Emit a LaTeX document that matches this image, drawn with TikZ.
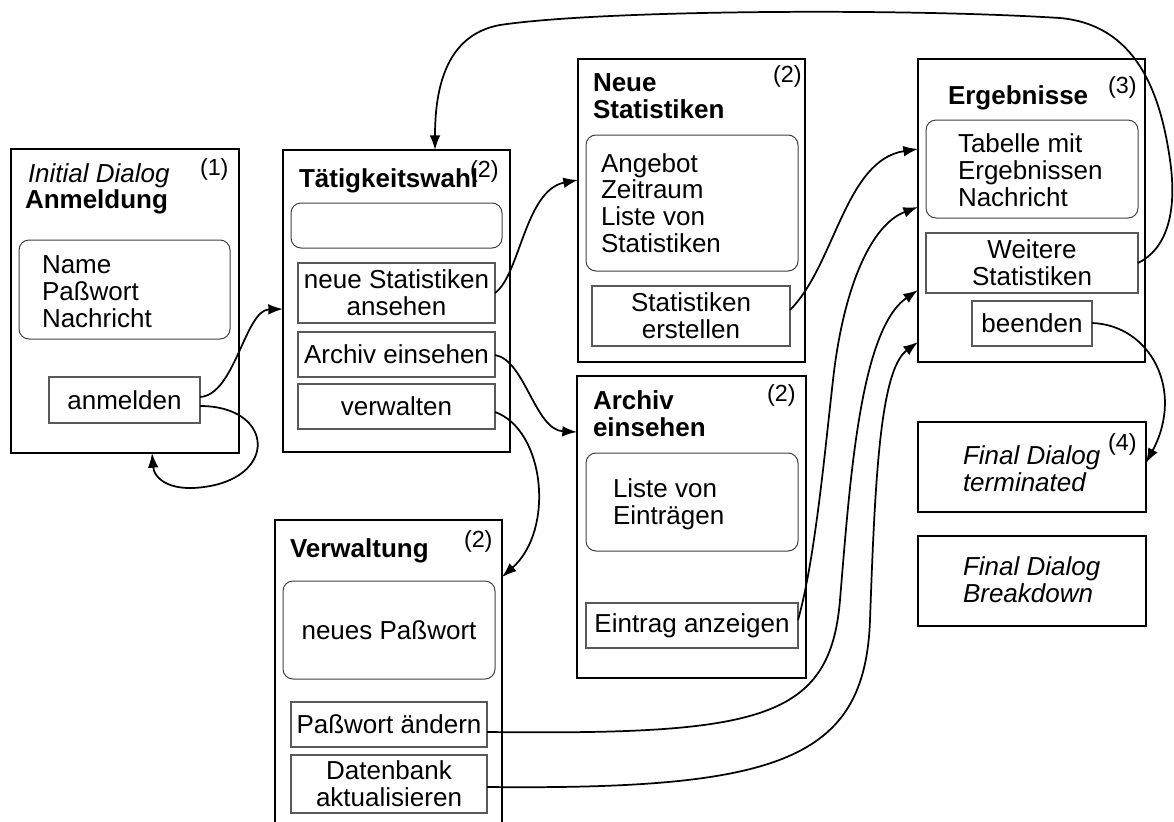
\documentclass[tikz,border=0pt]{standalone}
\usepackage{fontspec}
\setmainfont{Liberation Sans}
\usetikzlibrary{arrows.meta,fit}
\newcommand\dlgfont{\fontsize{19.5pt}{20pt}\selectfont}
\newcommand\numfont{\fontsize{17.5pt}{20pt}\selectfont}
\begin{document}
\begin{tikzpicture}[x=0.75pt,y=-0.75pt,
  every node/.style={font=\dlgfont, inner sep=0pt, outer sep=0pt},
  size/.style 2 args={minimum width=#1*0.75pt, minimum height=#2*0.75pt},
  dialog/.style={draw, line width=1.9pt, inner sep=0pt},
  field/.style={draw=black!75, line width=0.75pt, rounded corners=7.5pt, inner sep=0pt, align=center},
  btn/.style={draw=black!65, line width=0.8pt, inner sep=0pt, align=center},
  txt/.style={anchor=base west, align=left},
  ttl/.style={txt, font=\dlgfont\bfseries},
  ital/.style={txt, font=\dlgfont\itshape},
  num/.style={anchor=base west, font=\numfont},
  flow/.style={line width=1.3pt, -{Latex[length=11pt,width=8pt]}}
]
\useasboundingbox (0,0) rectangle (1174,821);
\clip (0,0) rectangle (1174,821);

% --- Initial dialog: Anmeldung
\node[dialog, fit={(11,149)(239,453)}] (init) {};
\node[ital] (initA) at (28,182) {Initial Dialog};
\node[ttl] (initB) at (25,208) {Anmeldung};
\node[num] (initN) at (200,175) {(1)};
\node[field, fit={(19,240)(230,339)}] (initF) {};
% multi-line texts are placed by the baseline of their last line
\node[txt] (initL) at (42,327) {Name\\Paßwort\\Nachricht};
\node[btn, size={151}{46}] (anm) at (124.5,400) {anmelden};

% --- Taetigkeitswahl
\node[dialog, fit={(283,150)(510,452)}] (taet) {};
\node[ttl] (taetA) at (299,187) {Tätigkeitswahl};
\node[num] (taetN) at (470,177) {(2)};
\node[field, fit={(291,203)(502,248)}] (taetF) {};
\node[btn, size={197}{60}] (nsa) at (396.5,293) {neue Statistiken\\ansehen};
\node[btn, size={197}{45}] (aeb) at (396.5,354.5) {Archiv einsehen};
\node[btn, size={197}{45}] (vwb) at (396.5,406.5) {verwalten};

% --- Neue Statistiken
\node[dialog, fit={(578,59)(805,362)}] (neu) {};
\node[ttl] (neuA) at (593,118) {Neue\\Statistiken};
\node[num] (neuN) at (773,82) {(2)};
\node[field, fit={(586,135)(798,271)}] (neuF) {};
\node[txt] (neuL) at (601,252) {Angebot\\Zeitraum\\Liste von\\Statistiken};
\node[btn, size={198}{60}] (seb) at (691,316) {Statistiken\\erstellen};

% --- Ergebnisse
\node[dialog, fit={(918,59)(1145,362)}] (erg) {};
\node[ttl] (ergA) at (948,104) {Ergebnisse};
\node[num] (ergN) at (1108,93) {(3)};
\node[field, fit={(926,120)(1138,218)}] (ergF) {};
\node[txt] (ergL) at (958,206) {Tabelle mit\\Ergebnissen\\Nachricht};
\node[btn, size={212}{60}] (wsb) at (1032,263) {Weitere\\Statistiken};
\node[btn, size={120}{45}] (beb) at (1032,323.5) {beenden};

% --- Archiv einsehen
\node[dialog, fit={(577,376)(806,678)}] (arch) {};
\node[ttl] (archA) at (593,436) {Archiv\\einsehen};
\node[num] (archN) at (767,401) {(2)};
\node[field, fit={(586,453)(798,551)}] (archF) {};
\node[txt] (archL) at (613,524) {Liste von\\Einträgen};
\node[btn, size={212}{45}] (eab) at (692,625.5) {Eintrag anzeigen};

% --- Verwaltung (runs past the lower edge)
\node[dialog, fit={(275,520)(502,840)}] (verw) {};
\node[ttl] (verwA) at (290,557) {Verwaltung};
\node[num] (verwN) at (464,547) {(2)};
\node[field, size={212}{98}] (verwF) at (389,630) {neues Paßwort};
\node[btn, size={196}{45}] (pab) at (389,724.5) {Paßwort ändern};
\node[btn, size={196}{58}] (dbb) at (389,784) {Datenbank\\aktualisieren};

% --- Final dialogs
\node[dialog, fit={(918,422)(1146,512)}] (fterm) {};
\node[ital] (ftermA) at (963,491) {Final Dialog\\terminated};
\node[num] (ftermN) at (1108,450) {(4)};
\node[dialog, fit={(918,536)(1146,626)}] (fbrk) {};
\node[ital] (fbrkA) at (963,602) {Final Dialog\\Breakdown};

% --- transitions
\draw[flow] (anm.east |- 0,397) .. controls (235,395) and (245,310) .. (taet.west |- 0,309);
\draw[flow] (anm.east |- 0,406) .. controls (270,406) and (278,470) .. (215,485)
            .. controls (170,495) and (154,478) .. (init.south -| 152,0);
\draw[flow] (nsa.east |- 0,293) .. controls (520,275) and (525,190) .. (neu.west |- 0,180);
\draw[flow] (aeb.east |- 0,355) .. controls (525,360) and (535,430) .. (arch.west |- 0,432);
\draw[flow] (vwb.east |- 0,412) .. controls (545,430) and (555,530) .. (verw.east |- 0,577);
\draw[flow] (seb.east |- 0,310) .. controls (835,265) and (845,160) .. (erg.west |- 0,149);
\draw[flow] (eab.east |- 0,620) .. controls (815,560) and (825,450) .. (833,380)
            .. controls (843,290) and (870,225) .. (erg.west |- 0,207);
\draw[flow] (pab.east |- 0,732) .. controls (760,735) and (830,720) .. (840,600)
            .. controls (850,480) and (860,330) .. (erg.west |- 0,290);
\draw[flow] (dbb.east |- 0,787) .. controls (780,790) and (865,760) .. (870,620)
            .. controls (875,480) and (880,370) .. (erg.west |- 0,342);
\draw[flow] (wsb.east |- 0,263) .. controls (1165,250) and (1178,215) .. (1170,160)
            .. controls (1160,90) and (1135,25) .. (1060,18)
            .. controls (900,8) and (600,10) .. (500,25)
            .. controls (445,35) and (435,90) .. (435,0 |- taet.north);
\draw[flow] (beb.east |- 0,323) .. controls (1150,325) and (1185,390) .. (fterm.east |- 0,463);
\end{tikzpicture}
\end{document}
